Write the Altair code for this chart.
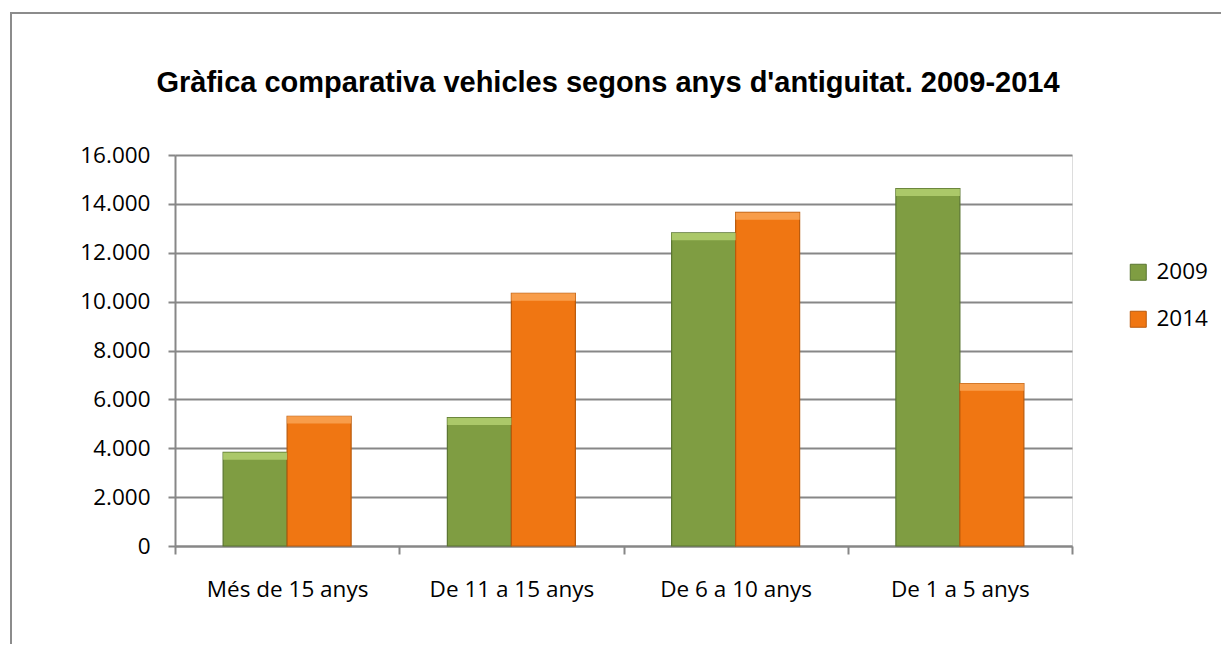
import altair as alt
import pandas as pd

title_text = "Gràfica comparativa vehicles segons anys d'antiguitat. 2009-2014"
categories = ["Més de 15 anys", "De 11 a 15 anys", "De 6 a 10 anys", "De 1 a 5 anys"]
series = ["2009", "2014"]
values_2009 = [3830, 5250, 12810, 14620]
values_2014 = [5310, 10340, 13650, 6650]
y_ticks = [0, 2000, 4000, 6000, 8000, 10000, 12000, 14000, 16000]

fill_colors = ["#7F9D42", "#F07612"]
stroke_colors = ["#5A7530", "#B95A0C"]
top_colors = ["#B3D070", "#F9A455"]

rows = []
for c, v in zip(categories, values_2009):
    rows.append({"cat": c, "serie": "2009", "val": v})
for c, v in zip(categories, values_2014):
    rows.append({"cat": c, "serie": "2014", "val": v})
df = pd.DataFrame(rows)

W, H = 897, 391
LABEL_FONT = "Open Sans"

x_enc = alt.X("cat:N", sort=categories, title=None,
              scale=alt.Scale(paddingInner=0, paddingOuter=0),
              axis=alt.Axis(labelAngle=0, tickBand="extent", tickSize=8,
                            labelPadding=24, labelFontSize=22.5, labelFont=LABEL_FONT,
                            labelColor="#000000", domainColor="#878787", tickColor="#878787",
                            domainWidth=2, tickWidth=2, grid=False))
xoff_enc = alt.XOffset("serie:N", sort=series, scale=alt.Scale(paddingInner=0, paddingOuter=0.752))

base = alt.Chart(df)

bars = base.mark_bar(strokeWidth=1.2).encode(
    x=x_enc,
    xOffset=xoff_enc,
    y=alt.Y("val:Q", title=None,
            scale=alt.Scale(domain=[0, 16000], nice=False),
            axis=alt.Axis(values=y_ticks, tickSize=7, labelPadding=18,
                          labelExpr="replace(format(datum.value, ','), ',', '.')",
                          labelFontSize=22.5, labelFont=LABEL_FONT, labelColor="#000000",
                          domainColor="#878787", tickColor="#878787", domainWidth=2, tickWidth=2,
                          gridColor="#878787", gridWidth=2, grid=True)),
    color=alt.Color("serie:N", sort=series, title=None,
                    scale=alt.Scale(domain=series, range=fill_colors),
                    legend=alt.Legend(orient="none", legendX=952, legendY=106,
                                      symbolType="square", symbolSize=256,
                                      symbolStrokeWidth=1, labelFontSize=22.5,
                                      labelFont=LABEL_FONT, labelColor="#000000",
                                      labelOffset=7, rowPadding=24)),
    stroke=alt.Stroke("serie:N", scale=alt.Scale(domain=series, range=stroke_colors), legend=None),
)

# light top bevel facet of each bar
tops = base.transform_calculate(
    low="datum.val - 300"
).mark_bar(opacity=0.85).encode(
    x=alt.X("cat:N", sort=categories),
    xOffset=xoff_enc,
    y=alt.Y("val:Q"),
    y2="low:Q",
    fill=alt.Fill("serie:N", scale=alt.Scale(domain=series, range=top_colors), legend=None),
)

frame = alt.Chart(pd.DataFrame({"k": [0]})).mark_rect(
    fill="transparent", stroke="#8C8C8C", strokeWidth=2
).encode(
    x=alt.value(-164), x2=alt.value(1100),
    y=alt.value(-142), y2=alt.value(700),
)

title = alt.Chart(pd.DataFrame({"t": [title_text]})).mark_text(
    font="Liberation Sans", fontWeight="bold", fontSize=29, color="#000000",
    align="center", baseline="alphabetic"
).encode(
    text="t:N", x=alt.value(433), y=alt.value(-63),
)

chart = alt.layer(frame, bars, tops, title).resolve_scale(fill="independent").properties(
    width=W, height=H,
    autosize=alt.AutoSizeParams(type="none"),
    padding={"left": 167, "top": 147, "right": 149, "bottom": 98},
).configure_view(stroke=None).configure(background="white")

chart.save("out.html", embed_options={"renderer": "svg", "actions": False})
